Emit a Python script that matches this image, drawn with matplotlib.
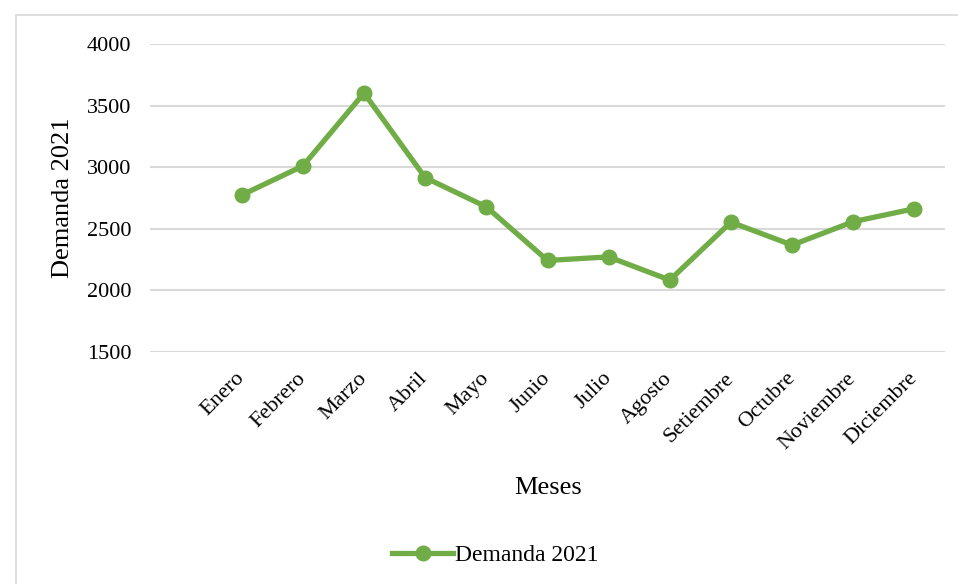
import matplotlib.pyplot as plt
from matplotlib.patches import Rectangle

plt.rcParams['font.family'] = ['Liberation Serif', 'DejaVu Serif']

meses = ['Enero', 'Febrero', 'Marzo', 'Abril', 'Mayo', 'Junio', 'Julio',
         'Agosto', 'Setiembre', 'Octubre', 'Noviembre', 'Diciembre']
demanda = [2774, 3010, 3602, 2915, 2678, 2243, 2272, 2084, 2554, 2368, 2558, 2663]
yticks = [1500, 2000, 2500, 3000, 3500, 4000]

green = '#70AD47'
grid = '#D9D9D9'

fig = plt.figure(figsize=(9.58, 5.84), dpi=100)
ax = fig.add_axes([150 / 958, 1 - 352 / 584, 795 / 958, 308 / 584])

# outer chart border (Excel style)
fig.patches.append(Rectangle((16 / 958, -0.01), 1, 1 - 15 / 584 + 0.01,
                             transform=fig.transFigure, fill=False,
                             edgecolor=grid, linewidth=1.2))

# first category is left blank, as in the original
x = list(range(1, len(meses) + 1))
ax.plot(x, demanda, color=green, linewidth=3.8, marker='o', markersize=10.5,
        label='Demanda 2021', zorder=3)

ax.set_xlim(-0.5, 12.5)
ax.set_ylim(1500, 4000)
ax.set_yticks(yticks)
ax.set_xticks(x)
ax.set_xticklabels(meses, rotation=45, ha='right', va='center', rotation_mode='anchor')
ax.tick_params(axis='both', length=0, labelsize=16)
ax.tick_params(axis='y', pad=13.5)
ax.tick_params(axis='x', pad=17)

ax.yaxis.grid(True, color=grid, linewidth=1.5)
ax.set_axisbelow(True)
for s in ax.spines.values():
    s.set_visible(False)

ax.set_ylabel('Demanda 2021', fontsize=19, labelpad=9)
fig.text(548 / 958, 1 - 488 / 584, 'Meses', fontsize=19, ha='center', va='center')

fig.legend(loc='center', bbox_to_anchor=(495 / 958, 1 - 555 / 584), frameon=False,
           fontsize=17, handlelength=2.6, handletextpad=0.05)

fig.savefig('out.png', dpi=100)
